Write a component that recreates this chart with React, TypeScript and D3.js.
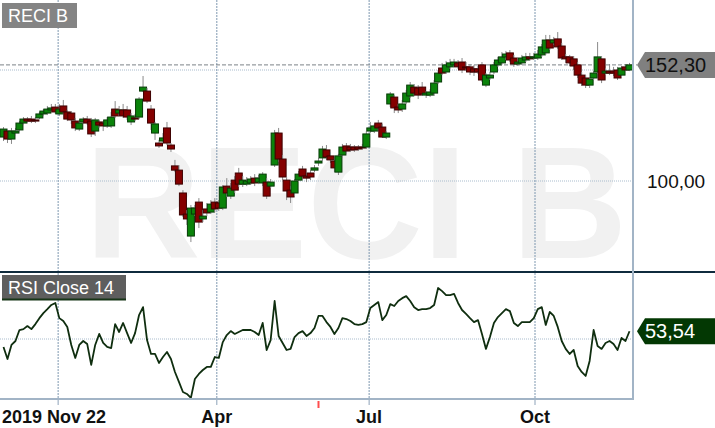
import React from 'react';
import * as d3 from 'd3';

// daily OHLC, RECI B, 2019-11-22 .. 2020-11
const opens = [
  119.8, 122.5, 118.9, 121.6, 123.0, 126.1, 127.9, 127.9, 127.5, 128.4,
  130.2, 130.6, 132.0, 133.3, 130.2, 133.8, 131.1, 130.6, 127.0, 123.4,
  126.6, 127.9, 127.0, 122.5, 126.6, 126.1, 124.8, 124.8, 132.4, 130.6,
  132.0, 132.0, 126.6, 128.4, 128.8, 140.5, 140.5, 132.4, 121.6, 117.1,
  118.0, 123.9, 116.2, 106.8, 104.9, 94.6, 85.1, 75.2, 85.1, 90.5,
  82.9, 87.4, 86.0, 90.5, 90.1, 87.8, 97.7, 93.2, 100.4, 103.6,
  98.6, 98.6, 99.1, 101.3, 99.5, 99.1, 99.5, 97.7, 107.2, 121.6,
  109.9, 100.4, 95.9, 94.6, 100.4, 105.4, 102.2, 103.6, 104.9, 108.1,
  110.4, 114.0, 111.3, 109.0, 104.0, 111.7, 115.8, 115.3, 115.3, 115.3,
  115.3, 115.3, 122.5, 122.5, 126.1, 124.3, 119.8, 134.7, 137.8, 133.3,
  132.4, 135.6, 138.3, 142.3, 141.9, 142.3, 138.7, 138.7, 139.6, 144.6,
  150.9, 149.1, 151.4, 152.3, 153.2, 153.6, 151.4, 151.4, 150.5, 150.5,
  152.3, 143.2, 146.4, 149.1, 152.3, 153.2, 155.9, 157.7, 155.4, 152.7,
  153.2, 154.5, 155.9, 155.4, 155.4, 156.8, 157.7, 163.5, 162.2, 164.0,
  160.8, 155.9, 155.9, 155.0, 152.3, 147.7, 146.4, 143.2, 146.4, 149.1,
  155.0, 148.6, 149.5, 149.5, 150.0, 147.7, 151.4, 150.0,
];

const closes = [
  123.4, 118.9, 122.5, 122.5, 126.1, 127.9, 127.0, 127.0, 127.0, 130.2,
  131.5, 132.4, 132.9, 131.1, 132.4, 131.1, 127.9, 127.5, 123.9, 126.1,
  127.9, 126.1, 121.2, 127.5, 125.2, 124.8, 127.5, 128.8, 129.3, 132.0,
  129.3, 128.8, 129.3, 127.9, 136.9, 142.3, 136.0, 126.1, 125.7, 115.8,
  119.4, 117.1, 114.4, 104.9, 98.6, 84.7, 82.9, 87.8, 87.8, 81.5,
  84.2, 85.6, 89.6, 87.4, 87.8, 97.3, 94.6, 96.8, 95.9, 98.6,
  100.4, 100.0, 100.9, 99.1, 101.3, 103.1, 93.2, 99.5, 121.6, 109.9,
  101.8, 95.5, 92.8, 100.0, 103.1, 102.2, 101.3, 101.8, 105.9, 109.0,
  114.4, 110.8, 109.5, 105.9, 111.3, 115.3, 113.5, 114.0, 114.0, 114.4,
  114.9, 121.2, 123.9, 124.8, 123.9, 119.8, 121.6, 139.2, 132.9, 132.0,
  134.7, 139.6, 143.2, 139.6, 138.7, 139.2, 139.6, 140.1, 144.1, 148.6,
  148.6, 152.3, 153.2, 153.6, 151.4, 150.0, 150.9, 149.1, 149.1, 149.1,
  145.5, 147.7, 147.7, 152.3, 154.5, 155.9, 157.2, 154.5, 152.7, 153.6,
  155.4, 155.9, 155.0, 155.9, 157.2, 160.4, 163.5, 159.9, 163.5, 160.4,
  155.4, 155.0, 153.2, 151.8, 147.7, 144.1, 143.2, 145.9, 148.6, 155.9,
  145.5, 149.5, 148.6, 148.6, 146.4, 150.9, 150.0, 152.3,
];

const highs = [
  124.3, 123.4, 123.9, 123.9, 127.0, 128.8, 128.8, 129.3, 128.8, 131.1,
  132.4, 133.8, 134.7, 134.7, 134.7, 136.5, 132.0, 131.5, 128.4, 127.5,
  128.8, 129.3, 128.4, 128.4, 127.5, 127.0, 128.8, 131.1, 136.0, 133.8,
  134.7, 133.8, 130.6, 130.2, 137.8, 147.3, 141.9, 134.2, 126.6, 118.5,
  121.6, 126.6, 117.1, 109.5, 107.2, 95.9, 86.9, 89.2, 89.2, 92.3,
  86.9, 90.1, 91.4, 92.3, 91.4, 98.2, 101.3, 99.1, 102.2, 105.9,
  102.2, 101.8, 102.2, 103.1, 102.7, 104.0, 101.3, 100.9, 123.0, 123.9,
  111.7, 101.8, 97.7, 100.9, 104.5, 106.8, 104.0, 104.9, 107.2, 110.4,
  115.8, 116.2, 113.1, 110.4, 112.2, 116.7, 117.1, 116.7, 116.2, 116.2,
  116.7, 122.5, 126.6, 125.7, 127.5, 125.7, 122.5, 140.1, 138.7, 134.7,
  136.5, 141.0, 144.6, 143.7, 143.2, 144.6, 140.5, 141.4, 145.5, 150.0,
  153.2, 154.1, 155.0, 155.0, 154.5, 155.4, 153.6, 152.7, 152.3, 151.8,
  153.6, 148.6, 149.1, 153.6, 155.9, 158.1, 158.6, 159.0, 156.8, 155.4,
  156.8, 157.7, 157.7, 157.7, 159.0, 161.7, 165.8, 165.8, 164.9, 167.1,
  162.2, 157.2, 156.8, 156.3, 153.6, 149.1, 147.7, 146.8, 149.5, 162.6,
  156.3, 150.9, 152.7, 151.4, 151.4, 151.8, 152.7, 153.2,
];

const lows = [
  118.0, 117.1, 116.7, 120.3, 122.1, 125.2, 126.1, 126.1, 126.1, 127.9,
  129.3, 129.7, 131.1, 130.2, 129.3, 130.2, 127.0, 125.7, 122.5, 122.5,
  125.7, 125.2, 119.8, 120.3, 123.9, 122.5, 123.9, 123.9, 128.4, 129.3,
  128.4, 127.5, 125.2, 127.0, 127.9, 140.1, 135.1, 123.0, 118.5, 114.9,
  117.1, 116.2, 113.1, 104.0, 97.7, 83.8, 80.2, 72.5, 84.2, 78.8,
  81.5, 84.2, 85.1, 86.0, 86.5, 86.9, 92.8, 91.9, 94.6, 97.3,
  97.3, 97.7, 98.2, 97.7, 98.6, 97.7, 91.9, 96.8, 106.3, 108.6,
  100.4, 91.4, 90.1, 93.2, 99.5, 100.9, 99.5, 100.4, 104.0, 106.8,
  109.0, 109.5, 108.1, 104.0, 102.7, 110.4, 112.2, 113.1, 113.1, 113.5,
  114.0, 114.4, 121.6, 121.6, 122.5, 119.4, 118.9, 133.3, 130.6, 130.6,
  131.1, 134.7, 137.4, 138.3, 136.9, 138.3, 137.4, 137.8, 138.3, 143.7,
  147.7, 148.2, 150.5, 151.4, 150.5, 148.6, 149.5, 147.7, 147.3, 148.2,
  144.6, 142.3, 145.5, 148.2, 151.4, 152.3, 154.5, 153.6, 151.4, 151.8,
  152.3, 153.6, 154.1, 154.5, 154.5, 155.9, 156.8, 159.0, 161.3, 159.5,
  154.5, 153.2, 151.8, 150.0, 146.4, 142.8, 141.9, 141.9, 145.5, 148.2,
  144.1, 147.7, 147.7, 147.3, 145.5, 146.8, 149.1, 149.5,
];

// RSI(14) on close
const rsi = [
  46.4, 40.9, 47.3, 49.1, 54.1, 54.5, 55.9, 54.5, 56.8, 59.5,
  61.8, 63.6, 65.5, 66.4, 59.5, 58.2, 55.5, 47.3, 41.4, 47.3,
  49.1, 47.7, 38.2, 47.3, 52.3, 48.2, 46.4, 45.9, 56.8, 53.2,
  57.3, 52.7, 48.2, 52.7, 60.9, 64.5, 49.5, 43.2, 43.2, 39.1,
  41.8, 44.1, 40.9, 35.0, 30.5, 25.9, 25.0, 23.2, 31.8, 34.1,
  35.9, 37.3, 37.3, 41.8, 41.4, 48.6, 51.8, 53.6, 52.3, 53.2,
  54.1, 54.1, 54.1, 53.2, 51.8, 57.3, 45.0, 49.5, 67.3, 51.4,
  48.2, 45.0, 45.5, 50.9, 52.7, 53.6, 51.4, 52.7, 55.0, 60.5,
  60.5, 57.7, 55.5, 52.3, 55.0, 59.5, 59.1, 58.2, 56.8, 56.4,
  56.8, 57.7, 64.1, 65.5, 66.8, 58.6, 60.9, 65.9, 65.0, 67.3,
  68.6, 69.5, 67.3, 64.5, 63.2, 63.6, 63.6, 64.1, 65.5, 73.2,
  71.8, 70.0, 70.0, 70.5, 66.4, 63.2, 61.4, 59.5, 57.7, 58.6,
  52.3, 45.5, 50.9, 57.3, 60.0, 61.8, 63.6, 62.7, 57.3, 55.9,
  57.7, 57.7, 57.7, 59.5, 63.6, 64.5, 56.4, 62.3, 60.5, 55.5,
  49.1, 45.5, 43.2, 45.0, 37.7, 35.0, 33.2, 40.0, 54.1, 46.8,
  45.5, 48.2, 49.1, 47.7, 45.0, 50.5, 49.1, 53.54,
];

// x axis: bar index of the month grid lines
const tickIdx = [13.7, 53.5, 91.7, 133.3];
const tickLabels = ['', 'Apr', 'Jul', 'Oct'];
const startLabel = '2019 Nov 22';
const dividendIdx = [79];

const priceTicks = [100, 150];
const rsiTicks = [50];
const symbol = 'RECI B';
const rsiTitle = 'RSI Close 14';

const fmt = (v: number) => v.toFixed(2).replace('.', ',');
const FONT = "'Liberation Sans', Arial, sans-serif";

const App: React.FC = () => {
  const width = 715;
  const height = 428;
  const plotRight = 633;
  const topPane = { top: 0, bottom: 271 };
  const rsiPane = { top: 272, bottom: 399 };

  const x = d3.scaleLinear().domain([0, closes.length - 1]).range([3.5, 629.5]);
  const yPrice = d3.scaleLinear().domain([100, 150]).range([181, 70]);
  const yRsi = d3.scaleLinear().domain([22.7, 80.5]).range([rsiPane.bottom, rsiPane.top]);

  const bodyW = 7;
  const lastClose = closes[closes.length - 1];
  const lastRsi = rsi[rsi.length - 1];

  const rsiLine = d3.line<number>()
    .x((_, i) => x(i))
    .y(d => yRsi(d));

  const tag = (cy: number) =>
    `M637,${cy} L645,${cy - 13} L715,${cy - 13} L715,${cy + 13} L645,${cy + 13} Z`;

  const pY = yPrice(lastClose);
  const rY = yRsi(lastRsi);

  return (
    <div style={{ position: 'absolute', left: 0, top: 0 }}>
      <svg width={width} height={height} style={{ display: 'block', background: '#fff' }} fontFamily={FONT}>
        <defs>
          <clipPath id="topClip">
            <rect x={0} y={topPane.top} width={plotRight} height={topPane.bottom - topPane.top} />
          </clipPath>
          <clipPath id="rsiClip">
            <rect x={0} y={rsiPane.top} width={plotRight} height={rsiPane.bottom - rsiPane.top + 1} />
          </clipPath>
        </defs>

        {/* watermark */}
        <text x={85} y={258} fontSize={160} fontWeight="bold" fill="#f1f1f1">{symbol}</text>

        {/* horizontal grid */}
        {priceTicks.map(t => (
          <line key={'pg' + t} x1={0} x2={plotRight} y1={yPrice(t)} y2={yPrice(t)}
            stroke="#a9bccd" strokeDasharray="1,1" />
        ))}
        {rsiTicks.map(t => (
          <line key={'rg' + t} x1={0} x2={plotRight} y1={yRsi(t)} y2={yRsi(t)}
            stroke="#a9bccd" strokeDasharray="1,1" />
        ))}

        {/* vertical grid */}
        {tickIdx.map(t => (
          <g key={'vg' + t}>
            <line x1={x(t)} x2={x(t)} y1={0} y2={rsiPane.bottom} stroke="#7f98b0" strokeDasharray="2,1" />
            <line x1={x(t)} x2={x(t)} y1={rsiPane.bottom} y2={405} stroke="#8da2b8" />
          </g>
        ))}

        {/* last price line */}
        <line x1={0} x2={637} y1={pY} y2={pY} stroke="#7c8288" strokeDasharray="4,2" />

        {/* candles */}
        <g clipPath="url(#topClip)">
          {closes.map((c, i) => {
            const o = opens[i];
            const up = c >= o;
            const yTop = yPrice(Math.max(o, c));
            const yBot = yPrice(Math.min(o, c));
            return (
              <g key={i}>
                <line x1={x(i)} x2={x(i)} y1={yPrice(highs[i])} y2={yPrice(lows[i])} stroke="#8a8a8a" />
                <rect x={x(i) - bodyW / 2} y={yTop} width={bodyW} height={Math.max(1, yBot - yTop)}
                  fill={up ? '#0a830a' : '#840000'} stroke={up ? '#073a07' : '#3e0000'} strokeWidth={1} />
              </g>
            );
          })}
        </g>

        {/* rsi line */}
        <g clipPath="url(#rsiClip)">
          <path d={rsiLine(rsi) || ''} fill="none" stroke="#0f2e0f" strokeWidth={1.8} strokeLinejoin="round" />
        </g>

        {/* frame */}
        <rect x={0} y={271} width={width} height={2} fill="#0f2b3d" />
        <line x1={plotRight} x2={plotRight} y1={0} y2={rsiPane.bottom + 1} stroke="#a2b4c6" strokeWidth={2} />
        <line x1={0} x2={plotRight + 1} y1={rsiPane.bottom} y2={rsiPane.bottom} stroke="#a2b4c6" strokeWidth={2} />

        {/* dividend marker */}
        {dividendIdx.map(d => (
          <line key={'dv' + d} x1={x(d)} x2={x(d)} y1={401} y2={408} stroke="#ff4d4d" strokeWidth={2} />
        ))}

        {/* x labels */}
        <text x={2} y={423} fontSize={18} fontWeight="bold" fill="#111">{startLabel}</text>
        {tickIdx.map((t, i) => tickLabels[i] ? (
          <text key={'xl' + t} x={x(t)} y={423} fontSize={18} fontWeight="bold" fill="#111" textAnchor="middle">
            {tickLabels[i]}
          </text>
        ) : null)}

        {/* price axis labels */}
        {priceTicks.filter(t => Math.abs(yPrice(t) - pY) > 20).map(t => (
          <text key={'pl' + t} x={647} y={yPrice(t) + 7} fontSize={19} fill="#111">{fmt(t)}</text>
        ))}

        <path d={tag(pY)} fill="#808080" />
        <text x={645} y={pY + 7} fontSize={20} fill="#111">{fmt(lastClose)}</text>

        <path d={tag(rY)} fill="#033803" />
        <text x={645} y={rY + 7} fontSize={20} fill="#fff">{fmt(lastRsi)}</text>

        {/* pane titles */}
        <rect x={2} y={3} width={75} height={25} fill="#848484" />
        <text x={8} y={22} fontSize={18} fill="#fff">{symbol}</text>

        <rect x={2} y={275} width={124} height={25} fill="#5e5e5e" />
        <line x1={2} x2={126} y1={299.5} y2={299.5} stroke="#173517" strokeWidth={2} />
        <text x={8} y={294} fontSize={18} fill="#fff">{rsiTitle}</text>
      </svg>
    </div>
  );
};

export default App;
